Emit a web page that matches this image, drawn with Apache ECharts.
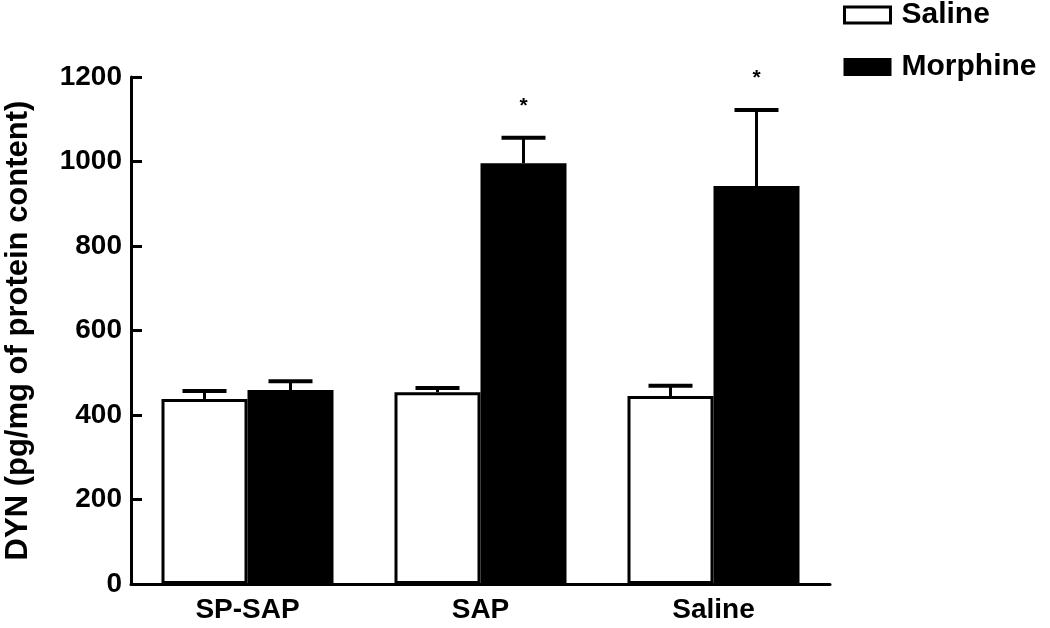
<!DOCTYPE html>
<html>
<head>
<meta charset="utf-8">
<script src="https://cdn.jsdelivr.net/npm/echarts@6/dist/echarts.min.js"></script>
<style>
  html, body { margin: 0; padding: 0; background: #fff; }
  #chart { width: 1050px; height: 628px; }
</style>
</head>
<body>
<div id="chart"></div>
<script>
// values
var categories = ['SP-SAP', 'SAP', 'Saline'];
var salineMean = [438, 454, 445];
var salineSem = [19, 10, 24];
var morphineMean = [459, 996, 942];
var morphineSem = [21, 60, 180];
var significance = ['', '*', '*'];
var yTicks = { min: 0, max: 1200, step: 200 };

var FONT = '"Liberation Sans", Arial, sans-serif';
var BAR_W = 86;

function errorData(mean, sem) {
    return mean.map(function (m, i) { return [i, m, m + sem[i]]; });
}

// upper-only error bar, side = -1 for left bar of the pair, +1 for right
function errorBar(side, withStars) {
    return function (params, api) {
        var i = api.value(0);
        var base = api.coord([i, api.value(1)]);
        var top = api.coord([i, api.value(2)]);
        var x = base[0] + side * BAR_W / 2;
        var cap = 22;
        var kids = [
            { type: 'line', shape: { x1: x, y1: base[1], x2: x, y2: top[1] },
              style: { stroke: '#000', lineWidth: 3 } },
            { type: 'line', shape: { x1: x - cap, y1: top[1], x2: x + cap, y2: top[1] },
              style: { stroke: '#000', lineWidth: 4 } }
        ];
        var s = withStars ? significance[params.dataIndex] : '';
        if (s) {
            kids.push({ type: 'text', x: x, y: top[1] - 32,
                style: { text: s, fill: '#000', font: 'bold 21px ' + FONT, align: 'center', verticalAlign: 'middle' } });
        }
        return { type: 'group', children: kids };
    };
}

var myChart = echarts.init(document.getElementById('chart'));
myChart.setOption({
    animation: false,
    backgroundColor: '#fff',
    textStyle: { fontFamily: FONT, color: '#000' },
    grid: { left: 131, right: 220, top: 77, bottom: 44, outerBoundsMode: 'none' },
    legend: {
        orient: 'vertical',
        left: 843,
        top: 0,
        padding: 0,
        icon: 'rect',
        itemWidth: 46,
        itemHeight: 16,
        itemGap: 22,
        textStyle: { fontFamily: FONT, fontWeight: 'bold', fontSize: 30, lineHeight: 30, color: '#000', padding: [0, 0, 0, 6] },
        data: [
            { name: 'Saline', itemStyle: { color: '#fff', borderColor: '#000', borderWidth: 3 } },
            { name: 'Morphine', itemStyle: { color: '#000' } }
        ]
    },
    xAxis: {
        type: 'category',
        data: categories,
        axisLine: { lineStyle: { color: '#000', width: 3 } },
        axisTick: { show: false },
        axisLabel: { color: '#000', fontFamily: FONT, fontWeight: 'bold', fontSize: 28, margin: 12 }
    },
    yAxis: {
        type: 'value',
        min: yTicks.min,
        max: yTicks.max,
        interval: yTicks.step,
        name: 'DYN (pg/mg of protein content)',
        nameLocation: 'middle',
        nameGap: 97,
        nameRotate: 90,
        nameTextStyle: { color: '#000', fontFamily: FONT, fontWeight: 'bold', fontSize: 31 },
        splitLine: { show: false },
        axisLine: { show: true, lineStyle: { color: '#000', width: 3 } },
        axisTick: { show: true, inside: true, length: 11, lineStyle: { color: '#000', width: 3 } },
        axisLabel: {
            color: '#000', fontFamily: FONT, fontWeight: 'bold', fontSize: 28, margin: 9,
            formatter: function (v) { return String(v); }
        }
    },
    series: [
        {
            name: 'Saline',
            type: 'bar',
            data: salineMean,
            barWidth: BAR_W,
            barGap: '0%',
            itemStyle: { color: '#fff', borderColor: '#000', borderWidth: 3 }
        },
        {
            name: 'Morphine',
            type: 'bar',
            data: morphineMean,
            barWidth: BAR_W,
            barGap: '0%',
            itemStyle: { color: '#000', borderColor: '#000', borderWidth: 3 }
        },
        {
            type: 'custom',
            name: 'Saline err',
            renderItem: errorBar(-1, false),
            data: errorData(salineMean, salineSem),
            z: 3
        },
        {
            type: 'custom',
            name: 'Morphine err',
            renderItem: errorBar(1, true),
            data: errorData(morphineMean, morphineSem),
            z: 3
        }
    ]
});
</script>
</body>
</html>
